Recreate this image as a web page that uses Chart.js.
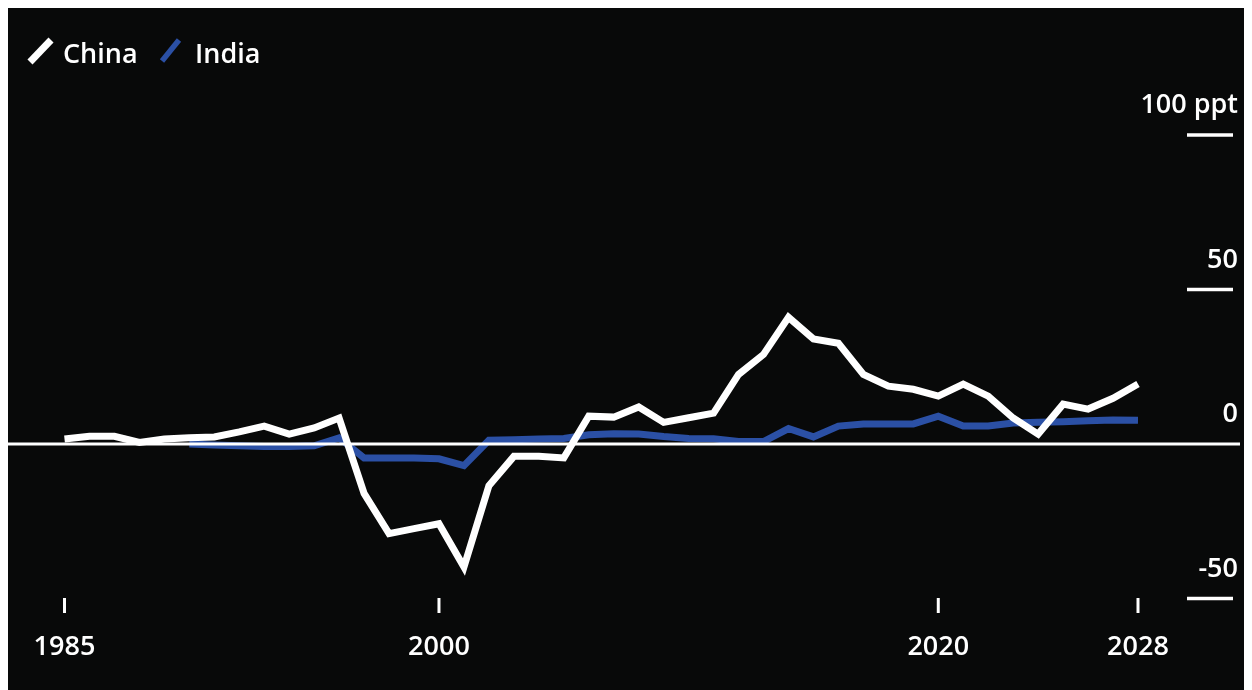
<!DOCTYPE html>
<html>
<head>
<meta charset="utf-8">
<script src="https://cdn.jsdelivr.net/npm/chart.js@4/dist/chart.umd.min.js"></script>
<style>
  body { margin: 8px; background: #fff; }
  #box { width: 1244px; height: 682px; background: #080909; }
</style>
</head>
<body>
<div id="box"><canvas id="chart" width="1244" height="682"></canvas></div>
<script>
// years on the x axis
var years = [];
for (var y = 1985; y <= 2028; y++) years.push(y);

// values in ppt
var china = [1.6, 2.5, 2.5, 0.5, 1.6, 2, 2.3, 3.9, 5.8, 3.2,
  5.2, 8.4, -16, -29, -27.4, -25.8, -39.8, -13.5, -4, -4,
  -4.5, 9, 8.7, 12, 7, 8.5, 10, 22.5, 29, 41,
  34, 32.6, 22.5, 18.7, 17.7, 15.5, 19.4, 15.5, 8.4, 3.2,
  12.9, 11.3, 14.8, 19.4];
var india = [null, null, null, null, null, 0, -0.3, -0.6, -0.8, -0.8,
  -0.6, 2, -4.5, -4.5, -4.5, -4.8, -7, 1.2, 1.4, 1.6,
  1.8, 3, 3.3, 3.2, 2.4, 1.8, 1.7, 0.8, 0.8, 5,
  2.3, 5.8, 6.5, 6.5, 6.5, 9, 5.8, 5.8, 6.8, 7,
  7.2, 7.5, 7.8, 7.7];

var xTicks = [1985, 2000, 2020, 2028];
var yTicks = [100, 50, 0, -50];
var yTickLabels = ['100 ppt', '50', '0', '-50'];

var WHITE = '#ffffff';
var BLUE = '#2b50a5';
var FONT = '600 27px "Open Sans", sans-serif';

function pts(vals) {
  return years.map(function (yr, i) { return { x: yr, y: vals[i] }; });
}

var decor = {
  id: 'decor',
  afterDatasetDraw: function (chart, args) {
    // zero line sits above India, below China
    if (args.index !== 1) return;
    var ctx = chart.ctx;
    var y0 = chart.scales.y.getPixelForValue(0);
    ctx.save();
    ctx.strokeStyle = WHITE;
    ctx.lineWidth = 3;
    ctx.beginPath();
    ctx.moveTo(0, y0);
    ctx.lineTo(1232, y0);
    ctx.stroke();
    ctx.restore();
  },
  afterDraw: function (chart) {
    var ctx = chart.ctx;
    var xs = chart.scales.x, ys = chart.scales.y;
    ctx.save();
    ctx.fillStyle = WHITE;
    ctx.strokeStyle = WHITE;
    ctx.font = FONT;

    // x ticks
    ctx.textAlign = 'center';
    ctx.textBaseline = 'alphabetic';
    xTicks.forEach(function (t) {
      var px = xs.getPixelForValue(t);
      ctx.lineWidth = 3;
      ctx.beginPath();
      ctx.moveTo(px, 590);
      ctx.lineTo(px, 605);
      ctx.stroke();
      ctx.fillText(String(t), px, 647);
    });

    // y ticks on the right
    ctx.textAlign = 'right';
    yTicks.forEach(function (t, i) {
      var py = ys.getPixelForValue(t);
      if (t !== 0) {
        ctx.lineWidth = 3.5;
        ctx.beginPath();
        ctx.moveTo(1179, py);
        ctx.lineTo(1225, py);
        ctx.stroke();
      }
      ctx.fillText(yTickLabels[i], 1230, py - 22);
    });

    // legend
    var items = chart.data.datasets;
    var lx = [[22, 54, 43, 32, 7], [154, 53, 171, 32, 5.5]];
    var tx = [55, 187];
    ctx.textAlign = 'left';
    items.forEach(function (ds, i) {
      var l = lx[i];
      ctx.strokeStyle = ds.borderColor;
      ctx.lineWidth = l[4];
      ctx.lineCap = 'butt';
      ctx.beginPath();
      ctx.moveTo(l[0], l[1]);
      ctx.lineTo(l[2], l[3]);
      ctx.stroke();
      ctx.fillStyle = WHITE;
      ctx.fillText(ds.label, tx[i], 55);
    });
    ctx.restore();
  }
};

new Chart(document.getElementById('chart'), {
  type: 'line',
  data: {
    datasets: [
      { label: 'China', data: pts(china), borderColor: WHITE, borderWidth: 7,
        pointRadius: 0, tension: 0, borderJoinStyle: 'miter', clip: false },
      { label: 'India', data: pts(india), borderColor: BLUE, borderWidth: 7,
        pointRadius: 0, tension: 0, borderJoinStyle: 'miter', clip: false }
    ]
  },
  options: {
    responsive: false,
    animation: false,
    devicePixelRatio: 1,
    layout: { padding: { left: 56.5, right: 114, top: 127, bottom: 91.5 } },
    plugins: { legend: { display: false }, tooltip: { enabled: false } },
    scales: {
      x: { type: 'linear', min: 1985, max: 2028, display: false },
      y: { min: -50, max: 100, display: false }
    }
  },
  plugins: [decor]
});
</script>
</body>
</html>
